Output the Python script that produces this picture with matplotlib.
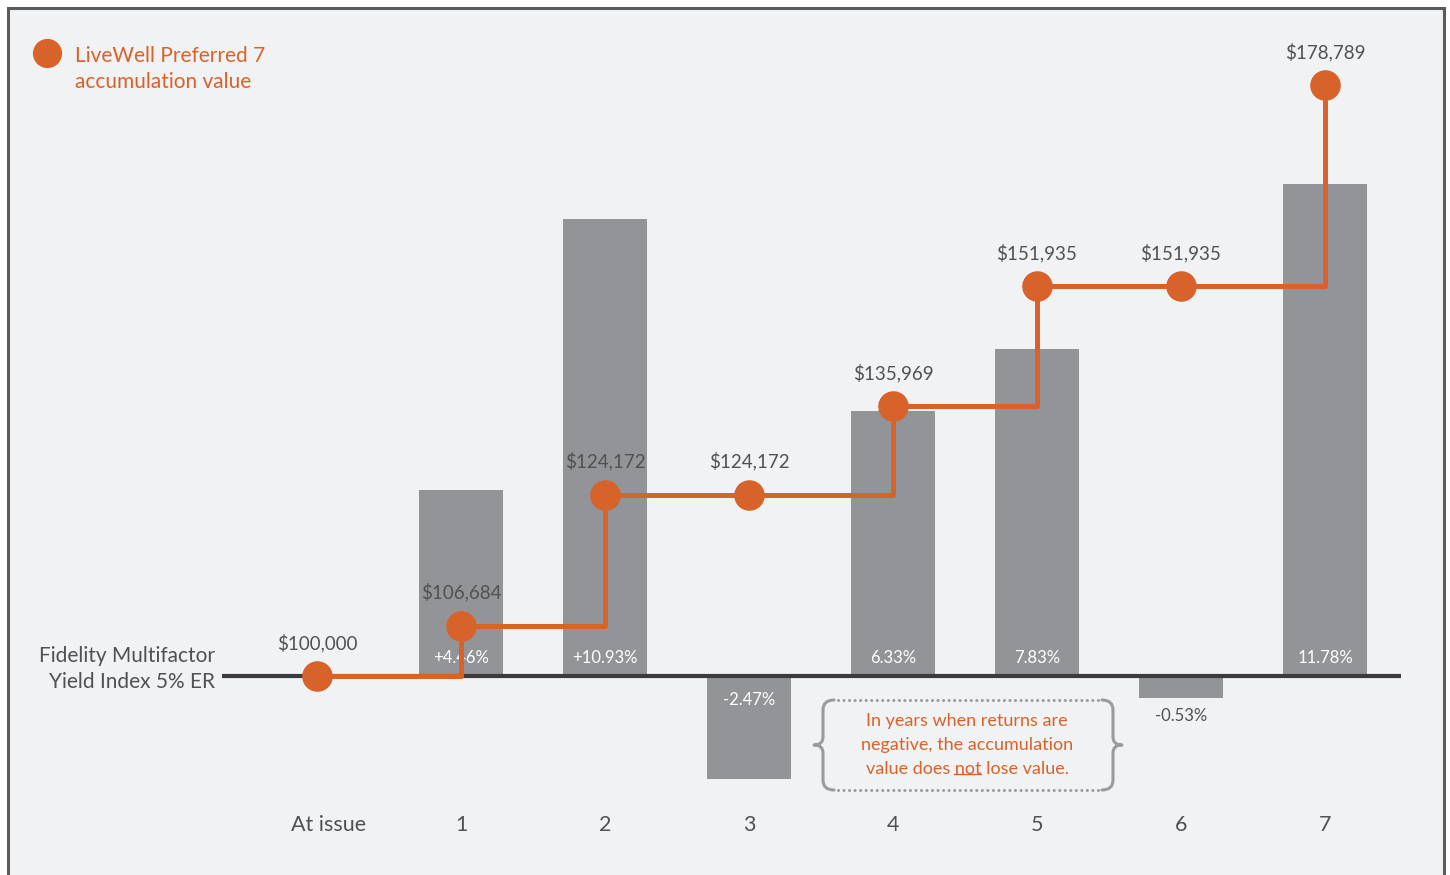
import matplotlib.pyplot as plt
from matplotlib.patches import Rectangle, PathPatch
from matplotlib.path import Path

plt.rcParams['font.family'] = ['Lato', 'DejaVu Sans']
plt.rcParams['font.weight'] = 'normal'

# data
categories = ['At issue', '1', '2', '3', '4', '5', '6', '7']
index_returns = [4.46, 10.93, -2.47, 6.33, 7.83, -0.53, 11.78]
return_labels = ['+4.46%', '+10.93%', '-2.47%', '6.33%', '7.83%', '-0.53%', '11.78%']
accum_values = [100000, 106684, 124172, 124172, 135969, 151935, 151935, 178789]

ORANGE = '#d7632a'
BAR = '#939497'
TEXT = '#505153'
W, H = 1450, 875

fig = plt.figure(figsize=(14.5, 8.75), dpi=100, facecolor='white')
ax = fig.add_axes([0, 0, 1, 1])
ax.set_xlim(-317 / 144, (W - 317) / 144)
ax.set_ylim(-199 / 41.8, 676 / 41.8)
ax.axis('off')
ax2 = ax.twinx()
ax2.set_ylim(100000 - 199 / 0.0075, 100000 + 676 / 0.0075)
ax2.axis('off')

# panel background and frame
frame = Rectangle((8 / W, -0.05), (1444 - 8) / W, 1.05 - 8 / H, transform=fig.transFigure,
                  facecolor='#f1f2f4', edgecolor='#5b5b5d', linewidth=2.2, zorder=-10)
fig.add_artist(frame)

x = list(range(len(categories)))

# index return bars
ax.bar(x[1:], index_returns, width=0.59, color=BAR, zorder=2)
ax.plot([-0.66, 7.53], [0, 0], color='#3b3b3d', lw=3, solid_capstyle='butt', zorder=3)

for xi, r, lab in zip(x[1:], index_returns, return_labels):
    if r > 0:
        ax.annotate(lab, (xi, 0), xytext=(0, 13), textcoords='offset points',
                    ha='center', va='center', color='white', fontsize=12, zorder=4)
    elif r < -1:
        ax.annotate(lab, (xi, 0), xytext=(0, -17), textcoords='offset points',
                    ha='center', va='center', color='white', fontsize=12, zorder=4)
    else:
        ax.annotate(lab, (xi, r), xytext=(0, -13), textcoords='offset points',
                    ha='center', va='center', color=TEXT, fontsize=12, zorder=4)

# accumulation value step line
ax2.step(x, accum_values, where='post', color=ORANGE, lw=3.6, zorder=5)
ax2.plot(x, accum_values, 'o', color=ORANGE, markersize=21, zorder=6)
for xi, v in zip(x, accum_values):
    ax2.annotate(f'${v:,}', (xi, v), xytext=(0, 24), textcoords='offset points',
                 ha='center', va='center', color=TEXT, fontsize=13.5)

# category labels
for xi, c in zip(x, categories):
    dx = 8 if c == 'At issue' else 0
    ax.annotate(c, (xi, 0), xytext=(dx, -107), textcoords='offset points',
                ha='center', va='center', color=TEXT, fontsize=15.5)

# index label
ax.text(215 / W, 1 - 669 / H, 'Fidelity Multifactor\nYield Index 5% ER', transform=ax.transAxes,
        ha='right', va='center', ma='right', color=TEXT, fontsize=15, linespacing=1.4)

# legend
ax.plot([47 / W], [1 - 53 / H], 'o', color=ORANGE, markersize=20, transform=ax.transAxes)
ax.text(75 / W, 1 - 69 / H, 'LiveWell Preferred 7\naccumulation value', transform=ax.transAxes,
        ha='left', va='center', color=ORANGE, fontsize=15, linespacing=1.4)


# note box (pixel geometry converted into data space)
def px(xp, yp):
    return ax.transData.inverted().transform((xp, H - yp))


def brace(pts):
    verts = [px(a, b) for a, b in pts]
    codes = [Path.MOVETO, Path.CURVE3, Path.CURVE3, Path.LINETO, Path.CURVE3, Path.CURVE3,
             Path.CURVE3, Path.CURVE3, Path.LINETO, Path.CURVE3, Path.CURVE3]
    ax.add_patch(PathPatch(Path(verts, codes), facecolor='none', edgecolor='#9a9b9e', lw=2.2,
                           capstyle='round', joinstyle='round', zorder=4))


left = [(834, 700), (823, 700), (823, 710), (823, 737), (823, 745), (814, 745),
        (823, 745), (823, 753), (823, 780), (823, 790), (834, 790)]
brace(left)
brace([(1936 - a, b) for a, b in left])
for yp in (700, 790):
    p0, p1 = px(838, yp), px(1098, yp)
    ax.plot([p0[0], p1[0]], [p0[1], p1[1]], color='#9a9b9e', lw=2.2,
            linestyle=(0, (0.01, 1.8)), dash_capstyle='round', zorder=4)

note_lines = ['In years when returns are', 'negative, the accumulation', 'value does not lose value.']
note_y = [721, 745, 769]
for line, yp in zip(note_lines, note_y):
    cx, cy = px(967, yp)
    t = ax.text(cx, cy, line, ha='center', va='center', color=ORANGE, fontsize=13)

# underline "not" on the last line
fig.canvas.draw()
r = fig.canvas.get_renderer()
full = t.get_window_extent(r)
probe = ax.text(0, 0, 'value does not', fontsize=13)
w1 = probe.get_window_extent(r).width
probe.set_text('not')
w2 = probe.get_window_extent(r).width
probe.remove()
x_end = full.x0 + w1
x_start = x_end - w2
a0 = ax.transData.inverted().transform((x_start, full.y0 + 3))
a1 = ax.transData.inverted().transform((x_end, full.y0 + 3))
ax.plot([a0[0], a1[0]], [a0[1], a1[1]], color=ORANGE, lw=1.0, zorder=4)

fig.savefig('out.png', dpi=100, facecolor='white')
